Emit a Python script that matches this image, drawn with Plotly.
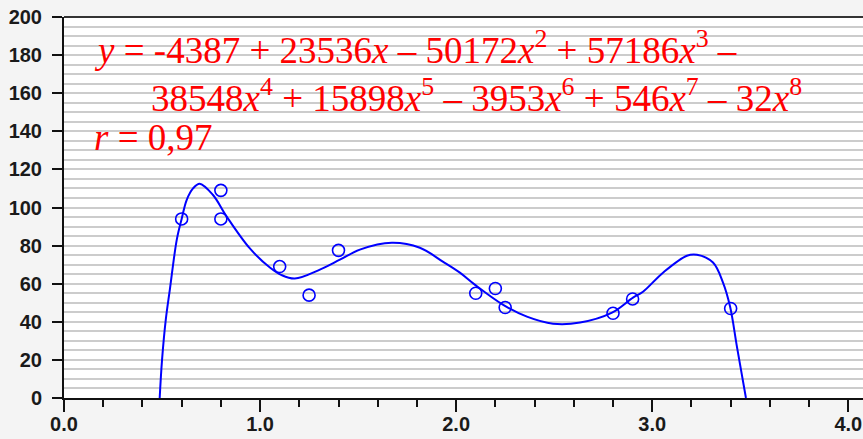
import plotly.graph_objects as go

# Observed data points
points_x = [0.6, 0.8, 0.8, 1.1, 1.25, 1.4, 2.1, 2.2, 2.25, 2.8, 2.9, 3.4]
points_y = [94, 109, 94, 69, 54, 77.5, 55, 57.5, 47.5, 44.5, 52, 47]

# Fitted curve
curve_x = [0.488, 0.500, 0.519, 0.540, 0.575, 0.600, 0.626, 0.658, 0.692, 0.759,
           0.830, 0.948, 1.050, 1.110, 1.177, 1.305, 1.407, 1.509, 1.672, 1.815, 1.932,
           2.019, 2.095, 2.238, 2.361, 2.494, 2.632, 2.795, 2.902, 2.953, 3.055, 3.177,
           3.228, 3.310, 3.361, 3.397, 3.432, 3.478]
curve_y = [0, 20, 41, 57, 83, 94, 104, 110, 112.5, 106.7, 95.2, 78.5, 68.5, 64.5,
           62.7, 67.4, 72.6, 77.9, 81.5, 78.9, 71.6, 65.8, 59.5, 49.0, 42.7, 39.0, 39.6,
           44.8, 52.7, 55.8, 65.8, 74.7, 75.2, 71.1, 60.6, 48.0, 27.0, 0]

x_tickvals = [0, 1, 2, 3, 4]
x_ticktext = ["0.0", "1.0", "2.0", "3.0", "4.0"]
y_tickvals = [0, 20, 40, 60, 80, 100, 120, 140, 160, 180, 200]

eq_line1 = "<i>y</i> = -4387 + 23536<i>x</i> – 50172<i>x</i><sup>2</sup> + 57186<i>x</i><sup>3</sup> –"
eq_line2 = "38548<i>x</i><sup>4</sup> + 15898<i>x</i><sup>5</sup> – 3953<i>x</i><sup>6</sup> + 546<i>x</i><sup>7</sup> – 32<i>x</i><sup>8</sup>"
eq_line3 = "<i>r</i> = 0,97"

fig = go.Figure()
fig.add_trace(go.Scatter(x=curve_x, y=curve_y, mode="lines",
                         line=dict(color="#0000ff", width=2, shape="spline"),
                         hoverinfo="skip", showlegend=False))
fig.add_trace(go.Scatter(x=points_x, y=points_y, mode="markers",
                         marker=dict(symbol="circle-open", size=12, color="#0000ff",
                                     line=dict(color="#0000ff", width=1.6)),
                         showlegend=False))

grid = "#cccccc"
tfont = dict(family="Liberation Sans", size=20, weight="bold", color="#1a1a1a")
fig.update_layout(
    width=863, height=439,
    margin=dict(l=64, r=0, t=17, b=41),
    paper_bgcolor="#f4f4f4", plot_bgcolor="white",
    font=dict(family="Liberation Sans", size=20, color="#1a1a1a"),
    xaxis=dict(range=[0, 4.075], tickvals=x_tickvals, ticktext=x_ticktext,
               automargin=False,
               showgrid=False, zeroline=False, showline=True, linecolor="#111111",
               linewidth=2, ticks="outside", ticklen=12, tickwidth=2, tickcolor="#111111",
               ticklabelstandoff=-5, tickfont=tfont,
               minor=dict(dtick=0.2, ticks="outside", ticklen=7, tickwidth=2,
                          tickcolor="#111111", showgrid=False)),
    yaxis=dict(range=[0, 200], tickvals=y_tickvals, showgrid=True, gridcolor=grid,
               automargin=False,
               gridwidth=2, zeroline=False, showline=True, linecolor="#111111",
               linewidth=2, ticks="outside", ticklen=10, tickwidth=2, tickcolor="#111111",
               ticklabelstandoff=6, tickfont=tfont,
               minor=dict(dtick=5, showgrid=True, gridcolor=grid, gridwidth=2, ticks="")),
    shapes=[dict(type="line", xref="paper", yref="paper", x0=0, x1=1, y0=1, y1=1,
                 line=dict(color="#333333", width=2))],
)

eq_font = dict(family="Liberation Serif", size=37, color="#ff0000")
fig.add_annotation(x=0.145, y=184.0, xref="x", yref="y", text=eq_line1, showarrow=False,
                   xanchor="left", yanchor="middle", font=eq_font)
fig.add_annotation(x=0.432, y=158.6, xref="x", yref="y", text=eq_line2, showarrow=False,
                   xanchor="left", yanchor="middle", font=eq_font)
fig.add_annotation(x=0.145, y=136.6, xref="x", yref="y", text=eq_line3, showarrow=False,
                   xanchor="left", yanchor="middle", font=eq_font)

fig.write_html("out.html", config={"displayModeBar": False},
               post_script="document.body.style.margin='0';document.body.style.background='#f4f4f4';")
